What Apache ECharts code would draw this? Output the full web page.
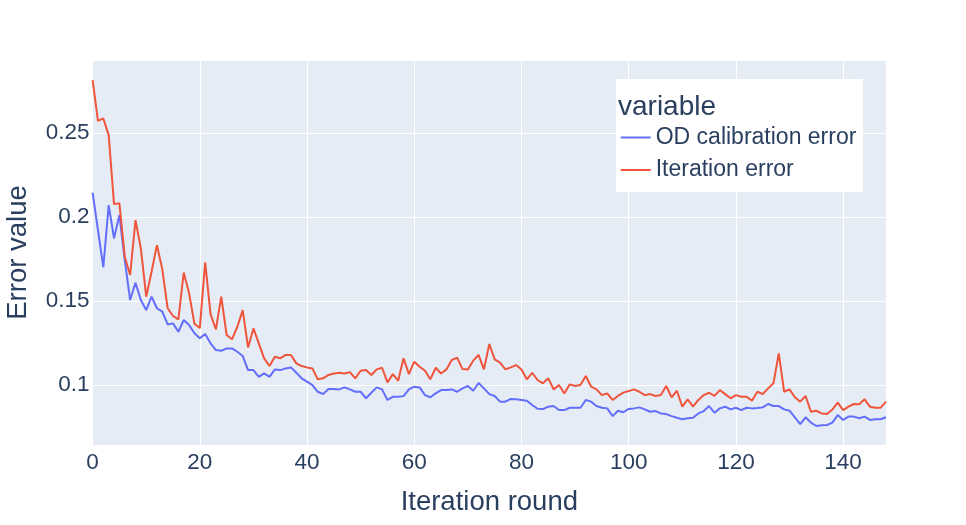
<!DOCTYPE html>
<html>
<head>
    <meta charset="utf-8">
    <title>Error value</title>
    <script src="https://cdn.jsdelivr.net/npm/echarts@6/dist/echarts.min.js"></script>
    <style>
        html, body { margin: 0; padding: 0; background: #fff; }
        #chart { width: 966px; height: 525px; }
    </style>
</head>
<body>
<div id="chart"></div>
<script type="text/javascript">
    // 每轮的误差值
    var odError = [
        0.2145, 0.1923, 0.1701, 0.2071, 0.1873, 0.2012, 0.1744, 0.1506, 0.1609, 0.1506,
        0.1446, 0.1526, 0.1457, 0.1437, 0.1361, 0.1367, 0.1317, 0.1387, 0.1357, 0.1308,
        0.1278, 0.1304, 0.1248, 0.1208, 0.1204, 0.1218, 0.1218, 0.1198, 0.1173, 0.1089,
        0.1089, 0.1049, 0.1069, 0.1049, 0.1093, 0.1089, 0.1099, 0.1105, 0.1073, 0.1040,
        0.1020, 0.1000, 0.0960, 0.0946, 0.0976, 0.0976, 0.0974, 0.0986, 0.0974, 0.0960,
        0.0960, 0.0921, 0.0954, 0.0986, 0.0974, 0.0911, 0.0930, 0.0930, 0.0934, 0.0974,
        0.0990, 0.0986, 0.0940, 0.0927, 0.0950, 0.0970, 0.0970, 0.0974, 0.0960, 0.0980,
        0.0994, 0.0966, 0.1012, 0.0980, 0.0946, 0.0935, 0.0901, 0.0901, 0.0917, 0.0915,
        0.0911, 0.0907, 0.0881, 0.0859, 0.0857, 0.0871, 0.0875, 0.0851, 0.0851, 0.0865,
        0.0865, 0.0865, 0.0911, 0.0901, 0.0875, 0.0865, 0.0861, 0.0815, 0.0847, 0.0838,
        0.0858, 0.0861, 0.0867, 0.0855, 0.0841, 0.0845, 0.0831, 0.0827, 0.0815, 0.0805,
        0.0796, 0.0802, 0.0805, 0.0831, 0.0845, 0.0875, 0.0835, 0.0861, 0.0871, 0.0855,
        0.0865, 0.0851, 0.0865, 0.0861, 0.0863, 0.0867, 0.0887, 0.0875, 0.0875, 0.0855,
        0.0847, 0.0808, 0.0768, 0.0808, 0.0776, 0.0756, 0.0760, 0.0762, 0.0776, 0.0821,
        0.0792, 0.0812, 0.0812, 0.0802, 0.0812, 0.0792, 0.0796, 0.0796, 0.0808
    ];
    var iterError = [
        0.2815, 0.2573, 0.2587, 0.2488, 0.2077, 0.2082, 0.1764, 0.1655, 0.1982, 0.1813,
        0.1526, 0.1674, 0.1833, 0.1689, 0.1457, 0.1411, 0.1391, 0.1670, 0.1546, 0.1365,
        0.1339, 0.1731, 0.1422, 0.1331, 0.1526, 0.1298, 0.1272, 0.1347, 0.1446, 0.1224,
        0.1337, 0.1248, 0.1159, 0.1113, 0.1169, 0.1159, 0.1179, 0.1179, 0.1129, 0.1113,
        0.1105, 0.1099, 0.1034, 0.1040, 0.1060, 0.1069, 0.1073, 0.1069, 0.1077, 0.1040,
        0.1085, 0.1089, 0.1060, 0.1093, 0.1103, 0.1016, 0.1065, 0.1026, 0.1159, 0.1065,
        0.1139, 0.1109, 0.1085, 0.1034, 0.1103, 0.1069, 0.1093, 0.1149, 0.1163, 0.1095,
        0.1093, 0.1145, 0.1179, 0.1093, 0.1244, 0.1153, 0.1133, 0.1093, 0.1105, 0.1119,
        0.1093, 0.1034, 0.1073, 0.1030, 0.1010, 0.1040, 0.0974, 0.1000, 0.0950, 0.1004,
        0.0994, 0.1000, 0.1054, 0.0990, 0.0974, 0.0940, 0.0950, 0.0911, 0.0935, 0.0955,
        0.0964, 0.0974, 0.0960, 0.0940, 0.0946, 0.0935, 0.0940, 0.0994, 0.0927, 0.0966,
        0.0871, 0.0915, 0.0871, 0.0911, 0.0940, 0.0954, 0.0935, 0.0970, 0.0946, 0.0921,
        0.0940, 0.0930, 0.0930, 0.0907, 0.0960, 0.0946, 0.0980, 0.1010, 0.1188, 0.0960,
        0.0974, 0.0927, 0.0901, 0.0935, 0.0841, 0.0847, 0.0831, 0.0827, 0.0855, 0.0895,
        0.0851, 0.0871, 0.0887, 0.0885, 0.0915, 0.0871, 0.0865, 0.0865, 0.0901
    ];
    var seriesNames = ['OD calibration error', 'Iteration error'];
    var seriesColors = ['#636efa', '#EF553B'];

    // x 就是迭代轮次
    var rounds = odError.map(function (v, i) { return i; });

    function pairs(values) {
        return values.map(function (v, i) { return [rounds[i], v]; });
    }

    var font = '"Liberation Sans", Arial, sans-serif';
    var textColor = '#2a3f5f';

    var myChart = echarts.init(document.getElementById('chart'));
    myChart.setOption({
        animation: false,
        backgroundColor: '#fff',
        textStyle: { fontFamily: font, color: textColor },
        grid: {
            left: 92.6, right: 80, top: 60, bottom: 80,
            outerBoundsMode: 'none',
            containLabel: false,
            show: true, backgroundColor: '#E5ECF6', borderWidth: 0
        },
        xAxis: {
            type: 'value',
            min: 0, max: 148, interval: 20,
            name: 'Iteration round',
            nameLocation: 'middle',
            nameGap: 43,
            nameTextStyle: { fontSize: 27.5, color: textColor, fontFamily: font },
            axisLine: { show: false },
            axisTick: { show: false },
            axisLabel: { fontSize: 22.5, color: textColor, margin: 6, showMaxLabel: false, fontFamily: font },
            splitLine: { lineStyle: { color: '#fff', width: 1 } }
        },
        yAxis: {
            type: 'value',
            min: 0.0643, max: 0.2935, splitNumber: 5,
            name: 'Error value',
            nameLocation: 'middle',
            nameGap: 60,
            nameTextStyle: { fontSize: 27.5, color: textColor, fontFamily: font },
            axisLine: { show: false },
            axisTick: { show: false },
            axisLabel: {
                fontSize: 22.5, color: textColor, margin: 3, padding: [4, 0, 0, 0],
                showMinLabel: false, showMaxLabel: false, fontFamily: font
            },
            splitLine: { lineStyle: { color: '#fff', width: 1 } }
        },
        legend: {
            orient: 'vertical',
            left: 620.7, top: 126,
            padding: 0,
            icon: 'rect',
            itemWidth: 30, itemHeight: 2, itemGap: 9.5,
            textStyle: { fontSize: 23, color: textColor, lineHeight: 23, fontFamily: font },
            data: seriesNames
        },
        graphic: [
            { type: 'rect', left: 616, top: 79, z: 3, shape: { width: 247, height: 113 }, style: { fill: '#fff' } },
            { type: 'text', left: 618, top: 93.5, z: 5, style: { text: 'variable', fill: textColor, font: '28px ' + font } }
        ],
        series: [
            {
                name: seriesNames[0], type: 'line', data: pairs(odError),
                symbol: 'none', color: seriesColors[0], lineStyle: { width: 2 }
            },
            {
                name: seriesNames[1], type: 'line', data: pairs(iterError),
                symbol: 'none', color: seriesColors[1], lineStyle: { width: 2 }
            }
        ]
    });
</script>
</body>
</html>
